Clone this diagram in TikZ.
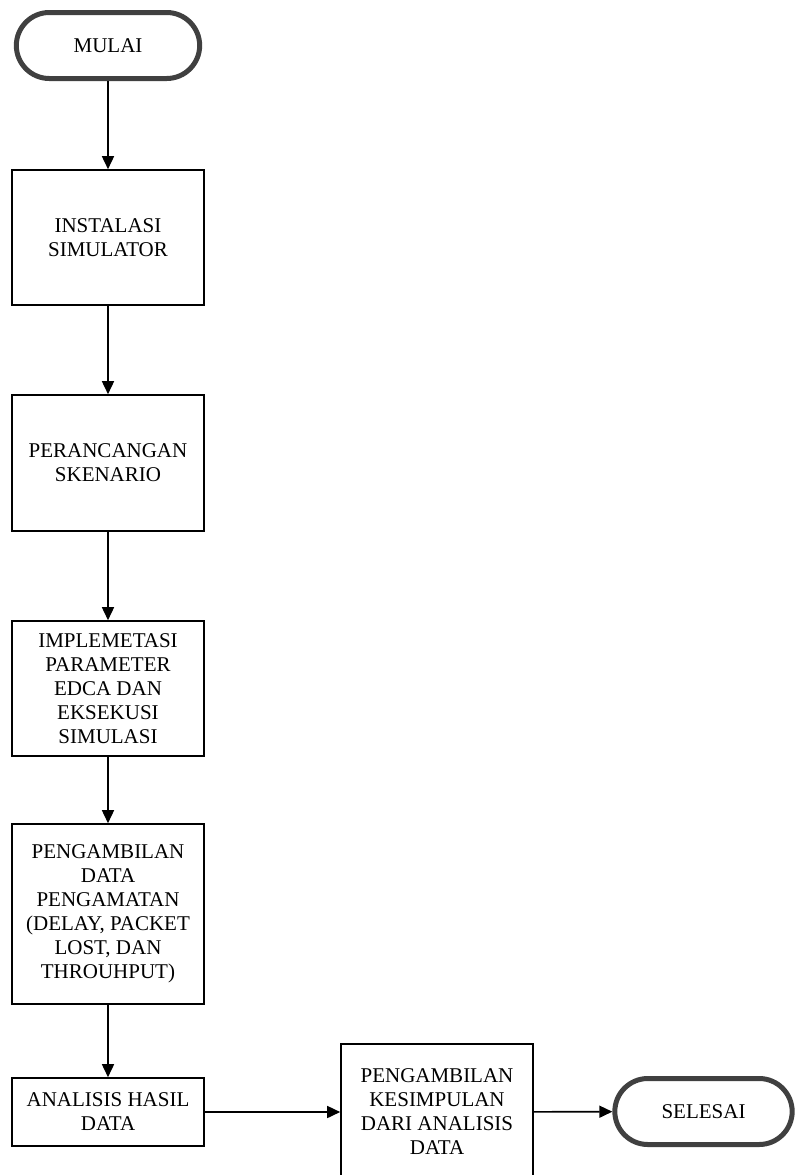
\documentclass[tikz,border=0pt]{standalone}
\usepackage{fontspec}
\setmainfont{Liberation Serif}
\usetikzlibrary{shapes.misc,arrows.meta}
\definecolor{garis}{HTML}{404040}
\begin{document}
\begin{tikzpicture}[x=1pt,y=-1pt,
    terminal/.style={rounded rectangle,draw=garis,line width=5pt,minimum width=190pt,minimum height=66pt,font=\fontsize{21}{24}\selectfont},
    proses/.style={rectangle,draw,line width=1.6pt,minimum width=192pt,align=center,inner sep=0pt,font=\fontsize{21}{24}\selectfont},
    panah/.style={line width=1.6pt,-{Triangle[width=12pt,length=13pt]}}]
        \useasboundingbox (0,0) rectangle (798,1175);
        \node[terminal] (mulai) at (108,45.5) {MULAI};
        \node[proses,minimum height=135pt] (instalasi) at (108,237.5) {INSTALASI\\SIMULATOR};
        \node[proses,minimum height=136pt] (rancang) at (108,463) {PERANCANGAN\\SKENARIO};
        \node[proses,minimum height=135pt] (implementasi) at (108,688.5) {IMPLEMETASI\\PARAMETER\\EDCA DAN\\EKSEKUSI\\SIMULASI};
        \node[proses,minimum height=180pt] (ambildata) at (108,914) {PENGAMBILAN\\DATA\\PENGAMATAN\\(DELAY, PACKET\\LOST, DAN\\THROUHPUT)};
        \node[proses,minimum height=68pt] (analisis) at (108,1112) {ANALISIS HASIL\\DATA};
        \node[proses,minimum height=136pt] (simpulan) at (437,1112) {PENGAMBILAN\\KESIMPULAN\\DARI ANALISIS\\DATA};
        \node[terminal,minimum width=184pt] (selesai) at (703.5,1111.5) {SELESAI};
        \draw[panah] (mulai) -- (instalasi);
        \draw[panah] (instalasi) -- (rancang);
        \draw[panah] (rancang) -- (implementasi);
        \draw[panah] (implementasi) -- (ambildata);
        \draw[panah] (ambildata) -- (analisis);
        \draw[panah] (analisis) -- (simpulan);
        \draw[panah] (simpulan) -- (selesai);
    \end{tikzpicture}
\end{document}
